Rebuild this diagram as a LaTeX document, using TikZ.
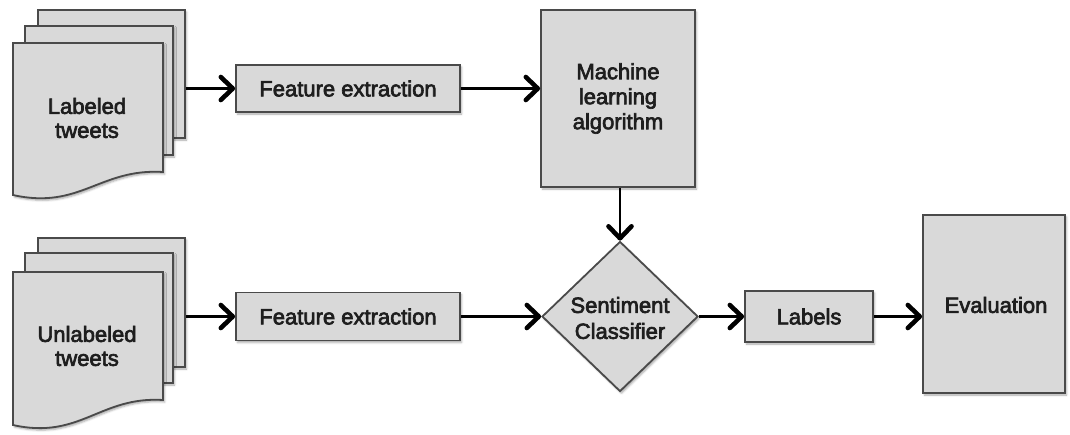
\documentclass[tikz,border=0pt]{standalone}
\usepackage{fontspec}
\setmainfont{Liberation Sans}[RawFeature={embolden=3}]
\usetikzlibrary{arrows.meta,shapes.geometric,shadows.blur,calc}

\definecolor{boxfill}{HTML}{D9D9D9}
\definecolor{boxline}{HTML}{4A4A4A}
\definecolor{inkcol}{HTML}{1E1E1E}

\tikzset{
  x=1pt, y=-1pt,
  softshadow/.style={blur shadow={shadow xshift=1.5pt, shadow yshift=-2pt,
      shadow blur steps=4, shadow blur radius=2pt, shadow opacity=35}},
  sheet/.style={draw=boxline, fill=boxfill, line width=1.8pt, softshadow},
  procbox/.style={rectangle, draw=boxline, fill=boxfill, line width=1.8pt,
      inner sep=0pt, softshadow, align=center, text=inkcol,
      font=\fontsize{22}{25}\selectfont},
  decision/.style={diamond, draw=boxline, fill=boxfill, line width=1.8pt,
      inner sep=0pt, softshadow},
  lbl/.style={align=center, text=inkcol, font=\fontsize{22}{24}\selectfont, inner sep=0pt},
  flow/.style={line width=2.8pt, black,
      -{Straight Barb[length=12pt, width=23pt, line width=4.6pt, round]}},
}

\begin{document}
\begin{tikzpicture}
\useasboundingbox (0,0) rectangle (1070,434);

% ---- labeled tweets: stack of three sheets ----
\node[sheet, rectangle, minimum width=147pt, minimum height=128pt, inner sep=0pt]
  (lback) at (111.5,74) {};
\node[sheet, rectangle, minimum width=148pt, minimum height=129pt, inner sep=0pt]
  (lmid) at (99,90.5) {};
\path[sheet] (13,43) -- (163,43) -- (163,172)
  .. controls (100,168) and (80,210) .. (13,195) -- cycle;
\node[lbl] (ltext) at (87,118) {Labeled\\tweets};

% ---- unlabeled tweets: stack of three sheets ----
\node[sheet, rectangle, minimum width=147pt, minimum height=129pt, inner sep=0pt]
  (uback) at (111.5,302.5) {};
\node[sheet, rectangle, minimum width=148pt, minimum height=130pt, inner sep=0pt]
  (umid) at (99,318) {};
\path[sheet] (13,272) -- (163,272) -- (163,400)
  .. controls (100,396) and (80,440) .. (13,425) -- cycle;
\node[lbl] (utext) at (87,346) {Unlabeled\\tweets};

% ---- processing steps ----
\node[procbox, minimum width=224pt, minimum height=47pt] (fe1) at (348,88.5) {Feature extraction};
\node[procbox, minimum width=154pt, minimum height=177pt] (ml) at (618,98.5) {Machine\\learning\\algorithm};
\node[procbox, minimum width=224pt, minimum height=48pt] (fe2) at (348,316.5) {Feature extraction};
\node[decision, minimum width=156pt, minimum height=150pt] (sc) at (620,316.5) {};
\node[lbl, font=\fontsize{22}{26}\selectfont] (sctext) at (620,318) {Sentiment\\Classifier};
\node[procbox, minimum width=128pt, minimum height=51pt] (lab) at (809,316.5) {Labels};
\node[procbox, minimum width=142pt, minimum height=178pt] (ev) at (994,304) {};
\node[lbl] (evtext) at (996,305) {Evaluation};

% ---- connectors ----
\draw[flow] (lback.east |- fe1.west) -- (fe1.west);
\draw[flow] (fe1.east) -- (fe1.east -| ml.west);
\draw[flow] (ml.south -| sc.north) -- (sc.north);
\draw[flow] (uback.east |- fe2.west) -- (fe2.west);
\draw[flow] (fe2.east) -- (fe2.east -| sc.west);
\draw[flow] (sc.east) -- (sc.east -| lab.west);
\draw[flow] (lab.east) -- (lab.east -| ev.west);
\end{tikzpicture}
\end{document}
